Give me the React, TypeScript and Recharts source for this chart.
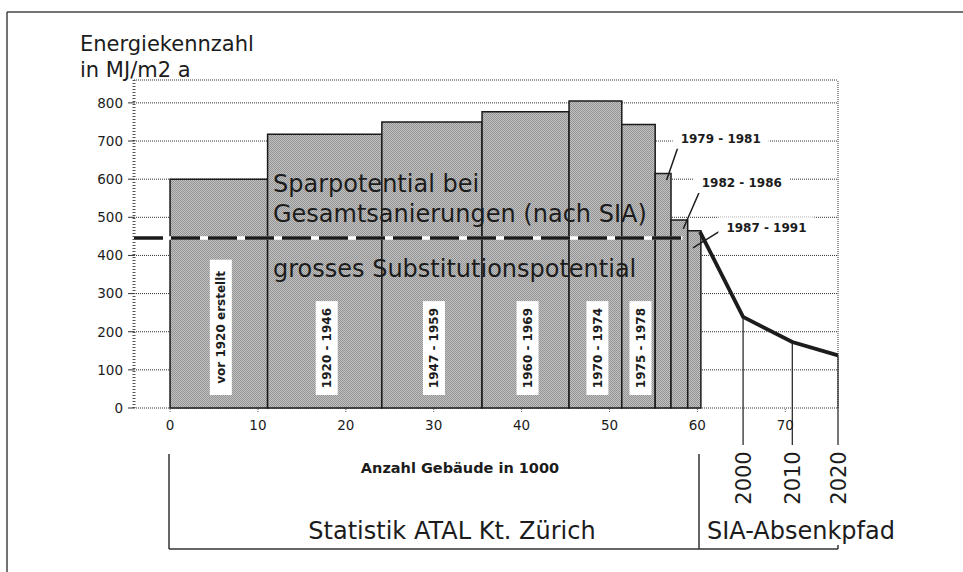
import {
  ComposedChart, Line, XAxis, YAxis, CartesianGrid,
  ReferenceArea, ReferenceLine, ReferenceDot,
} from "recharts";

// Baualtersklassen (Anzahl Gebäude in 1000, kumuliert) und Energiekennzahl
const periods  = ["vor 1920 erstellt", "1920 - 1946", "1947 - 1959", "1960 - 1969", "1970 - 1974", "1975 - 1978", "1979 - 1981", "1982 - 1986", "1987 - 1991"];
const binStart = [0, 11.1, 24.1, 35.5, 45.4, 51.4, 55.2, 57.0, 58.9];
const binEnd   = [11.1, 24.1, 35.5, 45.4, 51.4, 55.2, 57.0, 58.9, 60.4];
const energy   = [600, 718, 750, 777, 805, 743, 615, 493, 465];

// SIA-Absenkpfad
const pathX     = [60.3, 65.2, 70.8, 76];
const pathValue = [462, 239, 173, 138];
const pathLabel = ["", "2000", "2010", "2020"];

// Gesamtsanierung nach SIA
const savingsLevel = 446;
const savingsEnd   = 58.3;

const yTicks = [0, 100, 200, 300, 400, 500, 600, 700, 800];
const xTicks = [0, 10, 20, 30, 40, 50, 60, 70];

// callouts for the three narrow bars (text anchor + leader end, in data units)
const callouts = [
  { bar: 6, tx: 58.1, ty: 706, lx1: 58.3, ly1: 718, lx2: 56.5, ly2: 598 },
  { bar: 7, tx: 60.5, ty: 590, lx1: 60.7, ly1: 592, lx2: 58.4, ly2: 470 },
  { bar: 8, tx: 63.3, ty: 474, lx1: 63.2, ly1: 473, lx2: 59.5, ly2: 420 },
];

const FONT = "'DejaVu Sans', sans-serif";
const INK = "#1c1c1c";
const W = 963;
const H = 572;

function BarLabel({ viewBox, text }: any) {
  if (!viewBox) return null;
  const cx = viewBox.x + viewBox.width / 2 + 2;
  const bottom = viewBox.y + viewBox.height - 13;
  const len = text.length * 6.9 + 18;
  return (
    <g transform={`translate(${cx},${bottom}) rotate(-90)`}>
      <rect x={0} y={-11} width={len} height={22} fill="#fff" />
      <text x={len / 2} y={0} dy="0.36em" textAnchor="middle"
        fontFamily={FONT} fontWeight="bold" fontSize={12} fill={INK}>
        {text}
      </text>
    </g>
  );
}

function CalloutText({ cx, cy, text }: any) {
  return (
    <g>
      <rect x={cx - 8} y={cy - 10} width={96} height={20} fill="#fff" />
      <text x={cx} y={cy} dy="0.36em" fontFamily={FONT} fontWeight="bold" fontSize={12} fill={INK}>
        {text}
      </text>
    </g>
  );
}

function YearDot(props: any) {
  const { cx, cy, index, payload } = props;
  if (!payload.label) return <g key={`d${index}`} />;
  return (
    <g key={`d${index}`}>
      <line x1={cx} x2={cx} y1={cy} y2={445} stroke={INK} strokeWidth={1.2} />
      <text transform={`translate(${cx + 7.5},478) rotate(-90)`} textAnchor="middle"
        fontFamily={FONT} fontSize={21} fill={INK}>
        {payload.label}
      </text>
    </g>
  );
}

export default function App() {
  const data = pathX.map((x, i) => ({ x, value: pathValue[i], label: pathLabel[i] }));

  return (
    <div style={{ position: "absolute", left: 0, top: 0, width: W, height: H, background: "#fff", fontFamily: FONT }}>
      <ComposedChart width={W} height={H} data={data}
        margin={{ top: 80, right: 125, bottom: 134, left: 94 }}>
        <defs>
          <pattern id="stipple" width="2" height="2" patternUnits="userSpaceOnUse">
            <rect width="2" height="2" fill="#c2c2c2" />
            <rect width="1" height="1" fill="#939393" />
            <rect x="1" y="1" width="1" height="1" fill="#939393" />
          </pattern>
        </defs>
        <CartesianGrid vertical={false} stroke="#333" strokeDasharray="1 1" />
        <XAxis dataKey="x" type="number" domain={[-4.1, 76]} ticks={xTicks}
          axisLine={false} tickSize={4} tickMargin={8}
          tickLine={{ stroke: "#666", strokeDasharray: "1 1" }}
          tick={{ fontSize: 13.5, fill: INK, fontFamily: FONT }} />
        <YAxis type="number" domain={[0, 860]} ticks={yTicks} width={40}
          axisLine={{ stroke: "#555", strokeWidth: 3, strokeDasharray: "1 2" }}
          tickSize={6} tickMargin={5}
          tickLine={{ stroke: "#333" }}
          tick={{ fontSize: 13.5, fill: INK, fontFamily: FONT }} />
        <ReferenceLine x={76} stroke="#333" strokeDasharray="1 1" />

        {periods.map((p, i) => (
          <ReferenceArea key={p} x1={binStart[i]} x2={binEnd[i]} y1={0} y2={energy[i]}
            fill="url(#stipple)" fillOpacity={1} stroke="#1a1a1a" strokeWidth={1.5}
            label={i < 6 ? (lp: any) => <BarLabel viewBox={lp.viewBox} text={p} /> : undefined} />
        ))}

        <ReferenceLine segment={[{ x: -4.1, y: savingsLevel }, { x: savingsEnd, y: savingsLevel }]}
          stroke="#fff" strokeWidth={3.5} />
        <ReferenceLine segment={[{ x: -4.1, y: savingsLevel }, { x: savingsEnd, y: savingsLevel }]}
          stroke="#1a1a1a" strokeWidth={3.5} strokeDasharray="29 8" />

        {callouts.map((c) => (
          <ReferenceLine key={`l${c.bar}`} segment={[{ x: c.lx1, y: c.ly1 }, { x: c.lx2, y: c.ly2 }]}
            stroke={INK} strokeWidth={1.5} />
        ))}
        {callouts.map((c) => (
          <ReferenceDot key={`t${c.bar}`} x={c.tx} y={c.ty} r={0} ifOverflow="visible"
            shape={(sp: any) => <CalloutText cx={sp.cx} cy={sp.cy} text={periods[c.bar]} />} />
        ))}

        <Line type="linear" dataKey="value" stroke={INK} strokeWidth={3.8}
          dot={YearDot} activeDot={false} isAnimationActive={false} />
      </ComposedChart>

      <svg width={W} height={H} style={{ position: "absolute", left: 0, top: 0, pointerEvents: "none" }}>
        <line x1={7} y1={12} x2={W} y2={12} stroke="#444" strokeWidth={1.5} />
        <line x1={7} y1={12} x2={7} y2={H} stroke="#444" strokeWidth={1.5} />

        <text x={80} y={51} fontFamily={FONT} fontSize={21} fill={INK}>Energiekennzahl</text>
        <text x={80} y={77} fontFamily={FONT} fontSize={21} fill={INK}>in MJ/m2 a</text>

        <text x={273} y={192} fontFamily={FONT} fontSize={24} fill={INK}>Sparpotential bei</text>
        <text x={273} y={222} fontFamily={FONT} fontSize={24} fill={INK}>Gesamtsanierungen (nach SIA)</text>
        <text x={273} y={277} fontFamily={FONT} fontSize={24} fill={INK}>grosses Substitutionspotential</text>

        <text x={460} y={473} textAnchor="middle" fontFamily={FONT} fontWeight="bold" fontSize={14.5} fill={INK}>
          Anzahl Gebäude in 1000
        </text>

        <line x1={169} y1={454} x2={169} y2={549} stroke="#333" strokeWidth={1.5} />
        <line x1={169} y1={549} x2={838} y2={549} stroke="#333" strokeWidth={1.5} />
        <line x1={699} y1={454} x2={699} y2={549} stroke="#333" strokeWidth={1.5} />
        <line x1={838} y1={545} x2={838} y2={549} stroke="#333" strokeWidth={1.5} />

        <text x={452} y={539} textAnchor="middle" fontFamily={FONT} fontSize={24} fill={INK}>
          Statistik ATAL Kt. Zürich
        </text>
        <text x={707} y={539} fontFamily={FONT} fontSize={24} fill={INK}>SIA-Absenkpfad</text>
      </svg>
    </div>
  );
}
